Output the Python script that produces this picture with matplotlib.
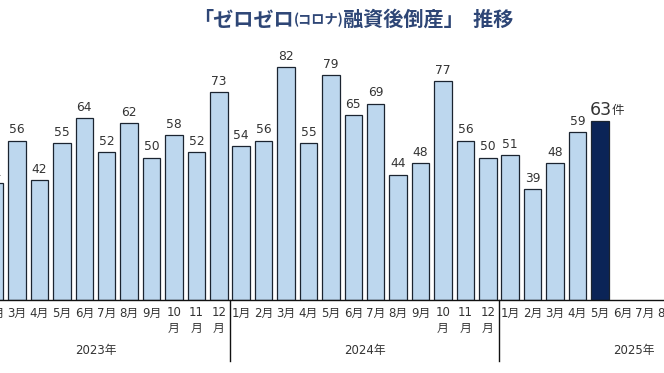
import matplotlib.pyplot as plt
import numpy as np
from matplotlib.transforms import blended_transform_factory

plt.rcParams['font.family'] = ['DejaVu Sans', 'Noto Sans CJK JP']

# monthly counts, Jan 2023 - Dec 2025 (Jan 2023 is outside the crop)
counts_2023 = [np.nan, 41, 56, 42, 55, 64, 52, 62, 50, 58, 52, 73]
counts_2024 = [54, 56, 82, 55, 79, 65, 69, 44, 48, 77, 56, 50]
counts_2025 = [51, 39, 48, 59, 63, np.nan, np.nan, np.nan, np.nan, np.nan, np.nan, np.nan]
years = ['2023年', '2024年', '2025年']
month_labels = [f'{m}月' if m < 10 else f'{m}\n月' for m in range(1, 13)]

values = np.array(counts_2023 + counts_2024 + counts_2025, dtype=float)
x = np.arange(len(values))
latest = 28  # 2025/5

light = '#BDD7EE'
dark = '#0B2457'
edge = '#1B2430'
text_c = '#333333'
title_c = '#2E4676'

fig = plt.figure(figsize=(6.64, 3.73), dpi=100)
ax = fig.add_axes([-39 / 664, 73.5 / 373, 807 / 664, 283.9 / 373])

colors = [dark if i == latest else light for i in x]
ax.bar(x, values, width=0.78, color=colors, edgecolor=edge, linewidth=0.9, zorder=2)

for i, v in zip(x, values):
    if np.isnan(v):
        continue
    if i == latest:
        t = ax.annotate(f'{int(v)}', (i, v), xytext=(0.5, 1), textcoords='offset points',
                        ha='center', va='bottom', fontsize=12.5, color=text_c)
        ax.annotate('件', xy=(1, 0.12), xycoords=t, ha='left', va='bottom',
                    fontsize=9, color=text_c)
    else:
        ax.annotate(f'{int(v)}', (i, v), xytext=(0, 3), textcoords='offset points',
                    ha='center', va='bottom', fontsize=8.8, color=text_c)

ax.set_xlim(-0.5, len(values) - 0.5)
ax.set_ylim(0, 100)
ax.set_xticks(x)
ax.set_xticklabels(month_labels * 3, fontsize=8.5, color=text_c, va='top', linespacing=1.25)
ax.tick_params(axis='x', length=0, pad=5)
ax.set_yticks([])
for s in ['top', 'left', 'right']:
    ax.spines[s].set_visible(False)
ax.spines['bottom'].set_linewidth(1.0)
ax.spines['bottom'].set_color('#111111')

trans = blended_transform_factory(ax.transData, ax.transAxes)
for k, yr in enumerate(years):
    ax.text(k * 12 + 5.5, -0.181, yr, transform=trans, ha='center', va='center',
            fontsize=8.5, color=text_c)
    if k > 0:
        ax.plot([k * 12 - 0.5] * 2, [0, -0.215], transform=trans, color='#111111',
                linewidth=1.0, clip_on=False)

# title, with the smaller (コロナ) part
title_kw = dict(color=title_c, fontweight='bold', family='Noto Sans CJK JP')
t1 = fig.text(193 / 664, 1 - 19 / 373, '「ゼロゼロ', fontsize=14.5, ha='left', va='center',
              **title_kw)
t2 = ax.annotate('(コロナ)', xy=(1, 0.12), xycoords=t1, fontsize=9.5, ha='left', va='bottom',
                 annotation_clip=False, **title_kw)
ax.annotate('融資後倒産」  推移', xy=(1, 0), xycoords=t1, xytext=(t2.get_window_extent(
    fig.canvas.get_renderer()).width * 72 / 100, 0), textcoords='offset points',
    fontsize=14.5, ha='left', va='bottom', annotation_clip=False, **title_kw)

fig.savefig('out.png', dpi=100)
